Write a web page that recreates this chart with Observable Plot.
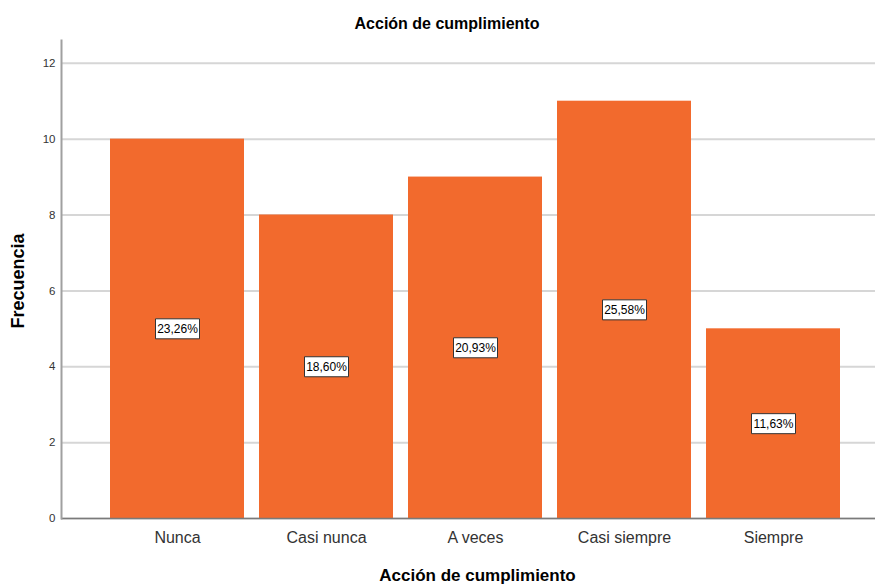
<!DOCTYPE html>
<html>
<head>
<meta charset="utf-8">
<script src="https://cdn.jsdelivr.net/npm/d3@7"></script>
<script src="https://cdn.jsdelivr.net/npm/@observablehq/plot@0.6"></script>
<style>
  html, body { margin: 0; padding: 0; background: #fff; }
  #wrap { position: relative; width: 875px; height: 584px; overflow: hidden; font-family: Arial, "Liberation Sans", sans-serif; }
  #title { position: absolute; left: 447px; top: 15px; transform: translateX(-50%); font-size: 16px; font-weight: bold; line-height: 18px; color: #000; white-space: nowrap; }
  #chart { position: absolute; left: 0; top: 40px; }
</style>
</head>
<body>
<div id="wrap">
  <div id="title">Acción de cumplimiento</div>
  <div id="chart"></div>
</div>
<script>
const chartTitle = "Acción de cumplimiento";
const xTitle = "Acción de cumplimiento";
const yTitle = "Frecuencia";
const categories = ["Nunca", "Casi nunca", "A veces", "Casi siempre", "Siempre"];
const counts = [10, 8, 9, 11, 5];
const percentLabels = ["23,26%", "18,60%", "20,93%", "25,58%", "11,63%"];
const yTicks = [0, 2, 4, 6, 8, 10, 12];

document.getElementById("title").textContent = chartTitle;

const data = categories.map((c, i) => ({cat: c, n: counts[i], pct: percentLabels[i]}));

const boxSymbol = {
  draw(context) { context.rect(-22, -10, 44, 20); }
};

const chart = Plot.plot({
  width: 875,
  height: 544,
  marginLeft: 61,
  marginRight: 0,
  marginTop: 0,
  marginBottom: 66,
  style: {fontFamily: "Arial, 'Liberation Sans', sans-serif", background: "white", overflow: "visible", color: "#333"},
  x: {domain: categories, range: [61, 890], paddingInner: 0.1, paddingOuter: 0.328, label: null},
  y: {domain: [0, 12.6], label: null},
  marks: [
    Plot.gridY(yTicks, {stroke: "#d6d6d6", strokeOpacity: 1, strokeWidth: 2}),
    Plot.barY(data, {x: "cat", y: "n", fill: "#f26a2d"}),
    Plot.ruleY([0], {stroke: "#7a7a7a", strokeWidth: 1.5}),
    Plot.frame({anchor: "left", stroke: "#a0a0a0", strokeWidth: 2}),
    Plot.axisY(yTicks, {tickSize: 0, tickPadding: 6, fontSize: 11.5, label: null, fill: "#333"}),
    Plot.axisX({tickSize: 0, tickPadding: 13, fontSize: 16, label: null, fill: "#333"}),
    Plot.dot(data, {x: "cat", y: d => d.n / 2, symbol: boxSymbol, fill: "white", stroke: "#333", strokeWidth: 1}),
    Plot.text(data, {x: "cat", y: d => d.n / 2, text: "pct", fontSize: 12, fill: "#000"}),
    Plot.text([xTitle], {frameAnchor: "bottom", dy: 62, dx: 9, text: d => d, fontWeight: "bold", fontSize: 17, fill: "#000"}),
    Plot.text([yTitle], {frameAnchor: "left", rotate: -90, dx: -43, dy: 49, text: d => d, fontWeight: "bold", fontSize: 18, fill: "#000"})
  ]
});
document.getElementById("chart").appendChild(chart);
</script>
</body>
</html>
